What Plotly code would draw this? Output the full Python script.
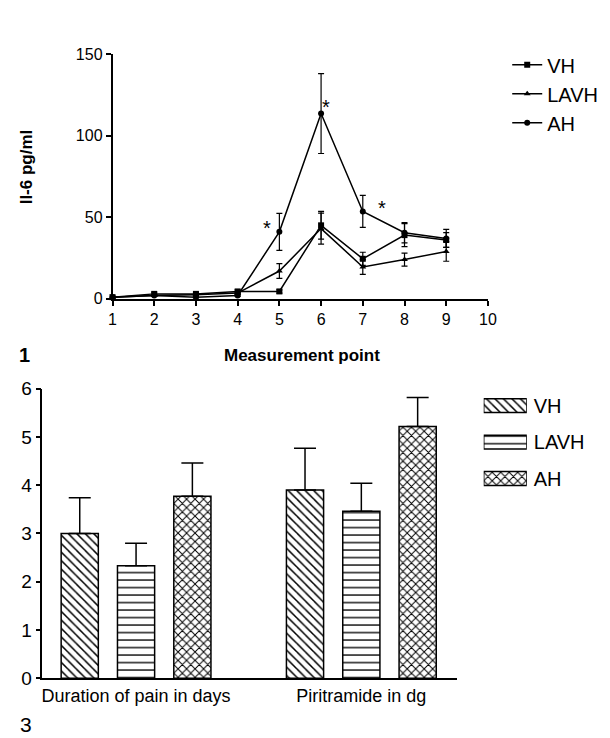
import plotly.graph_objects as go

# ---------------- data ----------------
points = [1, 2, 3, 4, 5, 6, 7, 8, 9]
x_ticks = [1, 2, 3, 4, 5, 6, 7, 8, 9, 10]
y_ticks_top = [0, 50, 100, 150]

vh_il6 = [1, 3, 3, 4.5, 4.5, 45, 24.5, 39, 36]
vh_il6_err = [0.5, 1, 1, 1, 1, 8.5, 4, 7, 4.5]
lavh_il6 = [1, 2, 2.5, 3.5, 17, 43, 19.5, 24, 29]
lavh_il6_err = [0.5, 0.5, 0.5, 0.5, 4.5, 9.5, 4.5, 4, 6]
ah_il6 = [1, 2, 1, 2, 41, 113.5, 53.5, 40.5, 37]
ah_il6_err = [0.5, 0.5, 0.5, 0.5, 11.3, 24.5, 9.8, 6.2, 5.5]

# significance asterisks (measurement point, value)
star_x = [4.7, 6.12, 7.46]
star_y = [46, 120, 58]

categories = ["Duration of pain in days", "Piritramide in dg"]
vh_bar = [3.0, 3.90]
vh_bar_err = [0.74, 0.87]
lavh_bar = [2.33, 3.46]
lavh_bar_err = [0.47, 0.58]
ah_bar = [3.77, 5.22]
ah_bar_err = [0.69, 0.60]
y_ticks_bottom = [0, 1, 2, 3, 4, 5, 6]

groups = ["VH", "LAVH", "AH"]

# ---------------- layout helpers ----------------
W, H = 610, 738
FONT = "Arial, Liberation Sans, Helvetica, sans-serif"


def fx(p):
    return p / W


def fy(p):
    return 1 - p / H


fig = go.Figure()

# ---------- top line chart ----------
line_specs = [
    ("VH", vh_il6, vh_il6_err, "square", 6),
    ("LAVH", lavh_il6, lavh_il6_err, "triangle-up", 6),
    ("AH", ah_il6, ah_il6_err, "circle", 6),
]
for name, vals, errs, sym, sz in line_specs:
    fig.add_trace(go.Scatter(
        x=points, y=vals, name=name, mode="lines+markers",
        line=dict(color="black", width=1.5),
        marker=dict(symbol=sym, size=sz, color="black"),
        error_y=dict(type="data", array=errs, visible=True,
                     color="black", thickness=1.2, width=3),
        cliponaxis=False, xaxis="x", yaxis="y", legend="legend",
    ))

# ---------- bottom bar chart ----------
bar_specs = [
    ("VH", vh_bar, vh_bar_err, dict(shape="\\", size=6, solidity=0.25)),
    ("LAVH", lavh_bar, lavh_bar_err, dict(shape="-", size=7.5, solidity=0.18)),
    ("AH", ah_bar, ah_bar_err, dict(shape="x", size=6, solidity=0.3)),
]
for name, vals, errs, pat in bar_specs:
    fig.add_trace(go.Bar(
        x=categories, y=vals, name=name, showlegend=False,
        marker=dict(color="white", line=dict(color="black", width=1.5),
                    pattern=dict(fgcolor="black", bgcolor="white",
                                 fillmode="replace", **pat)),
        error_y=dict(type="data", symmetric=False, array=errs,
                     arrayminus=[0] * len(errs), visible=True,
                     color="black", thickness=1.5, width=11),
        xaxis="x2", yaxis="y2",
    ))

# ---------- bottom legend drawn as bars ----------
for name, vals, errs, pat in bar_specs:
    fig.add_trace(go.Bar(
        x=[1], y=[name], orientation="h", width=0.38, showlegend=False,
        marker=dict(color="white", line=dict(color="black", width=1.5),
                    pattern=dict(fgcolor="black", bgcolor="white",
                                 fillmode="replace", **pat)),
        xaxis="x3", yaxis="y3", hoverinfo="skip",
    ))

axis_common = dict(showgrid=False, zeroline=False, showline=True,
                   linecolor="black", linewidth=1.5, ticks="outside",
                   ticklen=5, tickwidth=1.5, tickcolor="black",
                   tickfont=dict(family=FONT, size=16, color="black"))

fig.update_layout(
    width=W, height=H,
    margin=dict(l=0, r=0, t=0, b=0),
    paper_bgcolor="white", plot_bgcolor="white",
    font=dict(family=FONT, color="black"),
    barmode="group", bargap=0.25, bargroupgap=0.34,
    xaxis=dict(domain=[fx(102.7), fx(486.3)], range=[1, 10],
               tickvals=x_ticks, anchor="y", **axis_common),
    yaxis=dict(domain=[fy(289), fy(37)], range=[0, 150],
               tickvals=y_ticks_top, anchor="x", **axis_common),
    xaxis2=dict(domain=[fx(31), fx(455)], range=[-0.416, 1.426],
                type="category", anchor="y2", showgrid=False, zeroline=False,
                showline=True, linecolor="black", linewidth=1.5, ticks="",
                tickfont=dict(family=FONT, size=18, color="black")),
    yaxis2=dict(domain=[fy(679.5), fy(381.7)], range=[0, 6],
                tickvals=y_ticks_bottom, anchor="x2",
                **{**axis_common,
                   "tickfont": dict(family=FONT, size=19, color="black")}),
    xaxis3=dict(domain=[fx(482), fx(526)], range=[0, 1], visible=False,
                anchor="y3"),
    yaxis3=dict(domain=[fy(492.75), fy(380.25)], range=[2.5, -0.5],
                type="category", categoryorder="array", categoryarray=groups,
                side="right", anchor="x3", showgrid=False, zeroline=False,
                showline=False, ticks="", ticklabelstandoff=6,
                tickfont=dict(family=FONT, size=20, color="black")),
    legend=dict(x=fx(506), y=fy(28), xanchor="left", yanchor="top",
                bgcolor="rgba(0,0,0,0)", font=dict(family=FONT, size=20),
                tracegroupgap=0, itemclick=False),
    showlegend=True,
)

annotations = [
    dict(text="<b>Il-6 pg/ml</b>", x=fx(15), y=fy(153), textangle=-90,
         font=dict(family=FONT, size=17, color="black"), showarrow=False,
         xref="paper", yref="paper", xanchor="center", yanchor="middle"),
    dict(text="<b>Measurement point</b>", x=fx(296), y=fy(347),
         font=dict(family=FONT, size=17, color="black"), showarrow=False,
         xref="paper", yref="paper", xanchor="center", yanchor="middle"),
    dict(text="<b>1</b>", x=fx(13), y=fy(347),
         font=dict(family=FONT, size=20, color="black"), showarrow=False,
         xref="paper", yref="paper", xanchor="center", yanchor="middle"),
    dict(text="3", x=fx(14), y=fy(727),
         font=dict(family=FONT, size=21, color="black"), showarrow=False,
         xref="paper", yref="paper", xanchor="center", yanchor="middle"),
]
for sx, sy in zip(star_x, star_y):
    annotations.append(dict(text="*", x=sx, y=sy, xref="x", yref="y",
                            showarrow=False, yshift=-4,
                            font=dict(family=FONT, size=20, color="black")))
fig.update_layout(annotations=annotations)

fig.write_html("out.html")
